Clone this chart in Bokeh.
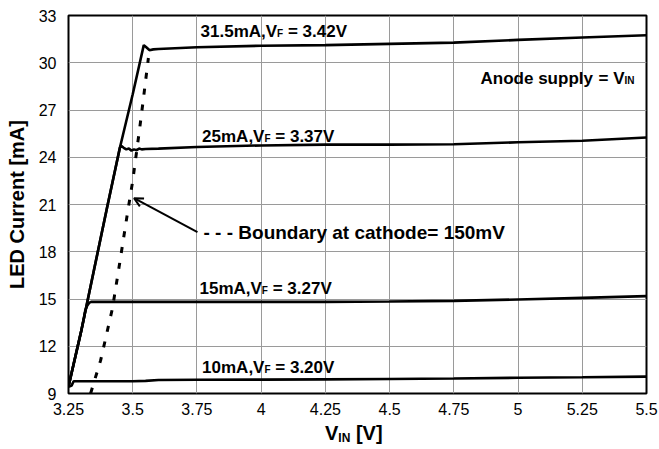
from bokeh.plotting import figure
from bokeh.models import Label, Arrow, OpenHead, FixedTicker, Range1d, Div
from bokeh.layouts import column
from bokeh.embed import file_html
from bokeh.resources import INLINE

# ---------------- data ----------------
x_ticks = [3.25, 3.5, 3.75, 4.0, 4.25, 4.5, 4.75, 5.0, 5.25, 5.5]
x_tick_labels = ["3.25", "3.5", "3.75", "4", "4.25", "4.5", "4.75", "5", "5.25", "5.5"]
y_ticks = [9, 12, 15, 18, 21, 24, 27, 30, 33]

vin_10 = [3.25, 3.255, 3.262, 3.27, 3.30, 3.40, 3.50, 3.55, 3.60, 3.75, 4.00, 4.25, 4.50, 4.75, 5.00, 5.25, 5.50]
i_10 = [9.45, 9.45, 9.5, 9.78, 9.78, 9.78, 9.78, 9.8, 9.86, 9.87, 9.88, 9.9, 9.92, 9.95, 10.0, 10.03, 10.07]

vin_15 = [3.25, 3.30, 3.31, 3.315, 3.322, 3.33, 3.34, 3.36, 3.50, 3.75, 4.00, 4.25, 4.50, 4.75, 5.00, 5.25, 5.50]
i_15 = [9.45, 13.0, 13.8, 14.25, 14.55, 14.75, 14.83, 14.82, 14.82, 14.82, 14.82, 14.82, 14.84, 14.88, 14.97, 15.07, 15.18]

vin_25 = [3.25, 3.30, 3.35, 3.40, 3.45, 3.455, 3.465, 3.475, 3.485, 3.495, 3.505, 3.515, 3.525, 3.535, 3.55, 3.60,
          3.75, 4.00, 4.25, 4.50, 4.75, 5.00, 5.25, 5.50]
i_25 = [9.45, 13.0, 16.9, 20.8, 24.6, 24.72, 24.6, 24.5, 24.55, 24.42, 24.5, 24.45, 24.55, 24.5, 24.52, 24.55,
        24.65, 24.75, 24.8, 24.8, 24.83, 24.95, 25.05, 25.25]

vin_31 = [3.25, 3.30, 3.35, 3.40, 3.45, 3.50, 3.543, 3.555, 3.565, 3.58, 3.60, 3.75, 4.00, 4.25, 4.50, 4.75, 5.00, 5.25, 5.50]
i_31 = [9.45, 13.0, 16.9, 20.8, 24.6, 28.0, 31.12, 30.95, 30.8, 30.85, 30.87, 30.98, 31.08, 31.12, 31.2, 31.28, 31.45, 31.6, 31.75]

vin_bnd = [3.336, 3.375, 3.421, 3.449, 3.48, 3.50, 3.526, 3.54, 3.561]
i_bnd = [9.0, 11.1, 14.4, 17.25, 20.5, 22.5, 25.7, 27.5, 30.3]

# ---------------- helpers ----------------
FONT = "Liberation Sans"
W_BOLD = {" ": 278, ".": 278, ",": 278, "=": 584, "A": 722, "V": 667, "F": 611, "I": 278, "N": 722,
          "m": 889, "n": 611, "o": 611, "d": 611, "e": 556, "s": 556, "u": 611, "p": 611, "l": 278,
          "y": 556, "[": 333, "]": 333, "-": 333}
for ch in "0123456789":
    W_BOLD[ch] = 556


def tw(s, size):
    return sum(W_BOLD.get(c, 600) for c in s) * size / 1000.0


p = figure(width=659, height=423, x_range=Range1d(3.25, 5.5), y_range=Range1d(9, 33),
           output_backend="svg", toolbar_location=None,
           min_border_left=68, min_border_right=13, min_border_top=15, min_border_bottom=30)

p.background_fill_color = "white"
p.border_fill_color = "white"
p.outline_line_color = "black"
p.outline_line_width = 2

p.xaxis.ticker = FixedTicker(ticks=x_ticks)
p.yaxis.ticker = FixedTicker(ticks=y_ticks)
p.xaxis.major_label_overrides = {t: l for t, l in zip(x_ticks, x_tick_labels)}
for ax in (p.xaxis, p.yaxis):
    ax.axis_line_color = None
    ax.major_tick_line_color = None
    ax.minor_tick_line_color = None
    ax.major_tick_out = 0
    ax.major_tick_in = 0
    ax.major_label_text_font = FONT
    ax.major_label_text_font_size = "16px"
    ax.major_label_text_color = "black"
p.xaxis.major_label_standoff = 9
p.yaxis.major_label_standoff = 12

p.yaxis.axis_label = "LED Current [mA]"
p.yaxis.axis_label_text_font = FONT
p.yaxis.axis_label_text_font_size = "20px"
p.yaxis.axis_label_text_font_style = "bold"
p.yaxis.axis_label_text_color = "black"
p.yaxis.axis_label_standoff = 8

p.xgrid.ticker = FixedTicker(ticks=x_ticks)
p.ygrid.ticker = FixedTicker(ticks=y_ticks)
for g in (p.xgrid, p.ygrid):
    g.grid_line_color = "#9a9a9a"
    g.grid_line_width = 1

# curves
for xs, ys in ((vin_10, i_10), (vin_15, i_15), (vin_25, i_25), (vin_31, i_31)):
    p.line(xs, ys, line_color="black", line_width=2.6)

p.line(vin_bnd, i_bnd, line_color="black", line_width=3, line_dash="6 10")

# arrow
p.add_layout(Arrow(end=OpenHead(size=9, line_width=2, line_color="black"),
                   x_start=3.752, y_start=19.25, x_end=3.505, y_end=21.4,
                   line_color="black", line_width=2))

BASE_SHIFT = 5  # px upward correction for the text baseline


def label(x, y, txt, size, x_off=0.0, y_off=0.0):
    p.add_layout(Label(x=x, y=y, text=txt, x_offset=x_off, y_offset=y_off + BASE_SHIFT,
                       text_font=FONT, text_font_size=f"{size}px", text_font_style="bold",
                       text_color="black", text_baseline="alphabetic", text_align="left"))


def sub_label(x, y, parts, size, sub_size):
    off = 0.0
    for txt, is_sub in parts:
        s = sub_size if is_sub else size
        lead = len(txt) - len(txt.lstrip(" "))
        off += tw(" " * lead, s)
        body = txt.strip(" ")
        label(x, y, body, s, x_off=off, y_off=-2 if is_sub else 0)
        off += tw(body, s)


curve_labels = [
    (3.764, 31.67, "31.5mA,V", "F", " = 3.42V"),
    (3.770, 25.0, "25mA,V", "F", " = 3.37V"),
    (3.760, 15.35, "15mA,V", "F", " = 3.27V"),
    (3.770, 10.33, "10mA,V", "F", " = 3.20V"),
]
for x, y, a, s, b in curve_labels:
    sub_label(x, y, [(a, False), (s, True), (b, False)], 17, 10)

# anode supply
label(4.854, 28.68, "Anode supply", 17)
sub_label(4.854 + (598 - 480) / 256.9, 28.68, [("= V", False), ("IN", True)], 17, 10)

# boundary text
label(3.7755, 18.9, "- - - Boundary at cathode= 150mV", 19)

# x axis title (with subscript) as real HTML text below the plot
xlabel = Div(text='V<sub style="font-size:12px;vertical-align:-2px">IN</sub> [V]',
             width=659, height=26, margin=0,
             styles={"font-family": FONT, "font-weight": "bold", "font-size": "20px",
                     "color": "black", "padding-left": "325px", "line-height": "20px",
                     "white-space": "nowrap"})

layout = column(p, xlabel, spacing=0)

open("out.html", "w").write(file_html(layout, INLINE))
